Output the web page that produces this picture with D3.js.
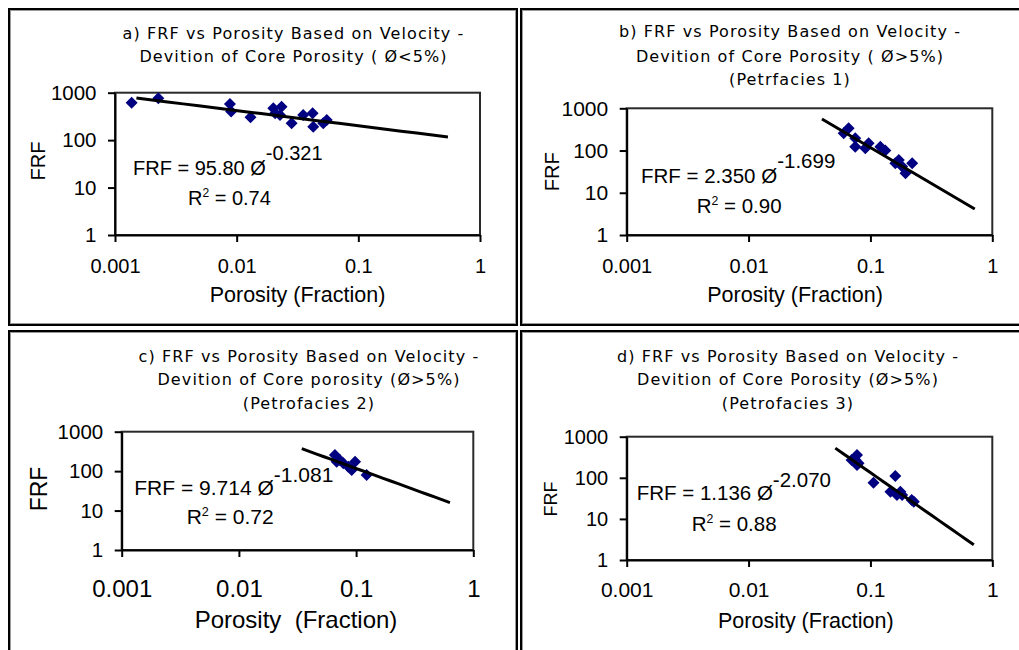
<!DOCTYPE html>
<html>
<head>
<meta charset="utf-8">
<script src="https://cdn.jsdelivr.net/npm/d3@7"></script>
<style>
  html, body { margin: 0; padding: 0; background: #ffffff; }
  svg { display: block; }
</style>
</head>
<body>
<svg id="chart" width="1019" height="650"></svg>
<script>
// ---- Data -------------------------------------------------------------
const xTickValues = [0.001, 0.01, 0.1, 1];
const xTickLabels = ["0.001", "0.01", "0.1", "1"];
const yTickValues = [1, 10, 100, 1000];
const yTickLabels = ["1", "10", "100", "1000"];

const panelTitles = [
  ["a) FRF vs Porosity Based on Velocity -", "Devition of Core Porosity ( \u00D8<5%)"],
  ["b) FRF vs Porosity Based on Velocity -", "Devition of Core Porosity ( \u00D8>5%)", "(Petrfacies 1)"],
  ["c) FRF vs Porosity Based on Velocity -", "Devition of Core porosity (\u00D8>5%)", "(Petrofacies 2)"],
  ["d) FRF vs Porosity Based on Velocity -", "Devition of Core Porosity (\u00D8>5%)", "(Petrofacies 3)"]
];

// a) core porosity below 5 %
const porosityA = [0.00137, 0.00227, 0.0088, 0.0090, 0.0130, 0.0200, 0.0234, 0.0227, 0.0207,
                   0.0283, 0.0352, 0.0421, 0.0426, 0.0515, 0.0550];
const frfA      = [615, 760, 575, 400, 305, 469, 507, 339, 368,
                   226, 339, 367, 192, 226, 265];

// b) petrofacies 1
const porosityB = [0.0603, 0.0662, 0.0751, 0.0751, 0.0908, 0.0966, 0.1206, 0.1324,
                   0.160, 0.171, 0.182, 0.194, 0.220];
const frfB      = [256, 336, 195, 123, 113, 148, 123, 100,
                   50, 60, 42, 29, 50];

// c) petrofacies 2
const porosityC = [0.066, 0.0683, 0.073, 0.0778, 0.0858, 0.0917, 0.098, 0.123];
const frfC      = [256, 173, 189, 158, 129, 107, 173, 80];

// d) petrofacies 3
const porosityD = [0.070, 0.0752, 0.0776, 0.0799, 0.0776, 0.106, 0.160, 0.146,
                   0.165, 0.176, 0.182, 0.218, 0.227];
const frfD      = [271, 271, 359, 225, 205, 76, 110, 46,
                   38, 46, 38, 29, 26];

// Power-law fits  FRF = k * phi^n
const fitCoef     = [95.80, 2.350, 9.714, 1.136];
const fitExponent = [-0.321, -1.699, -1.081, -2.070];
const fitR2       = [0.74, 0.90, 0.72, 0.88];
const fitLabels   = [["95.80", "-0.321", "0.74"], ["2.350", "-1.699", "0.90"],
                     ["9.714", "-1.081", "0.72"], ["1.136", "-2.070", "0.88"]];
const fitRange    = [[0.0015, 0.545], [0.040, 0.718], [0.0344, 0.632], [0.0515, 0.705]];

const porosity = [porosityA, porosityB, porosityC, porosityD];
const frf      = [frfA, frfB, frfC, frfD];

// ---- Layout -----------------------------------------------------------
const cells = [
  { x: 9,   y: 9,   w: 508, h: 316 },
  { x: 521, y: 9,   w: 512, h: 316 },
  { x: 9,   y: 331, w: 508, h: 330 },
  { x: 521, y: 331, w: 512, h: 330 }
];

const layout = [
  { x0: 115,   x1: 480,   y0: 92.7,  y1: 235,
    titleX: 293.5, titleY: [38.5, 62],
    xTickFont: 20, yTickFont: 20.5, xPad: 16.8, axisFont: 21.5, yTitleFont: 20,
    xTitle: [297.5, 302], yTitle: [37.5, 161],
    eqFont: 20, eq: [133, 175], supDy: -15, r2: [188, 205], xTitleText: "Porosity (Fraction)" },
  { x0: 626.7, x1: 992.3, y0: 108.3, y1: 235,
    titleX: 790, titleY: [37, 61.5, 85],
    xTickFont: 20, yTickFont: 21, xPad: 16.5, axisFont: 21.5, yTitleFont: 20,
    xTitle: [795, 301.7], yTitle: [552, 171.7],
    eqFont: 20.5, eq: [641, 182.7], supDy: -14.7, r2: [696.7, 212.7], xTitleText: "Porosity (Fraction)" },
  { x0: 121.7, x1: 473.3, y0: 431.7, y1: 550,
    titleX: 309, titleY: [361.5, 385, 409],
    xTickFont: 24, yTickFont: 20.5, xPad: 22.7, axisFont: 24, yTitleFont: 23,
    xTitle: [296, 628], yTitle: [38.5, 489],
    eqFont: 21, eq: [134.3, 495], supDy: -12.7, r2: [186.7, 524], xTitleText: "Porosity  (Fraction)" },
  { x0: 626.7, x1: 992.3, y0: 436.7, y1: 560,
    titleX: 788, titleY: [361.5, 385, 409],
    xTickFont: 21, yTickFont: 20, xPad: 14.8, axisFont: 21.5, yTitleFont: 18,
    xTitle: [805.8, 628.3], yTitle: [550.5, 499],
    eqFont: 20.5, eq: [636.7, 500], supDy: -13.3, r2: [691.7, 530.7], xTitleText: "Porosity (Fraction)" }
];

const sansFont  = "'Liberation Sans', Arial, sans-serif";
const titleFont = "'DejaVu Sans', Verdana, sans-serif";
const markerColor = "#000080";
const tickLen = 7;

const svg = d3.select("#chart");

// ---- Cell frames ------------------------------------------------------
cells.forEach(c => {
  svg.append("rect")
    .attr("x", c.x).attr("y", c.y).attr("width", c.w).attr("height", c.h)
    .attr("fill", "#ffffff").attr("stroke", "#000000").attr("stroke-width", 2);
  svg.append("rect")
    .attr("x", c.x + 1.5).attr("y", c.y + 1.5).attr("width", c.w - 3).attr("height", c.h - 3)
    .attr("fill", "none").attr("stroke", "#9a9a9a").attr("stroke-width", 1);
});

// ---- Panels -----------------------------------------------------------
layout.forEach((L, i) => {
  const g = svg.append("g");

  const x = d3.scaleLog().domain([xTickValues[0], xTickValues[xTickValues.length - 1]]).range([L.x0, L.x1]);
  const y = d3.scaleLog().domain([yTickValues[0], yTickValues[yTickValues.length - 1]]).range([L.y1, L.y0]);

  // title
  const title = g.append("text")
    .attr("font-family", titleFont).attr("font-size", 16)
    .attr("letter-spacing", "1.1px")
    .attr("text-anchor", "middle").attr("fill", "#000");
  panelTitles[i].forEach((line, k) => {
    title.append("tspan").attr("x", L.titleX).attr("y", L.titleY[k]).text(line);
  });

  // plot-area frame
  g.append("rect")
    .attr("x", L.x0).attr("y", L.y0)
    .attr("width", L.x1 - L.x0).attr("height", L.y1 - L.y0)
    .attr("fill", "none").attr("stroke", "#2a2a2a").attr("stroke-width", 2);

  // x axis
  const xAxis = d3.axisBottom(x)
    .tickValues(xTickValues)
    .tickFormat((d, k) => xTickLabels[k])
    .tickSizeInner(tickLen).tickSizeOuter(0).tickPadding(L.xPad);
  const gx = g.append("g").attr("transform", `translate(0,${L.y1})`).call(xAxis);
  gx.selectAll("path, line").attr("stroke", "#000").attr("stroke-width", 2);
  gx.selectAll("text").attr("font-family", sansFont).attr("font-size", L.xTickFont).attr("fill", "#000");

  // y axis
  const yAxis = d3.axisLeft(y)
    .tickValues(yTickValues)
    .tickFormat((d, k) => yTickLabels[k])
    .tickSizeInner(tickLen).tickSizeOuter(0).tickPadding(11.5);
  const gy = g.append("g").attr("transform", `translate(${L.x0},0)`).call(yAxis);
  gy.selectAll("path, line").attr("stroke", "#000").attr("stroke-width", 2);
  gy.selectAll("text").attr("font-family", sansFont).attr("font-size", L.yTickFont).attr("fill", "#000");

  // axis titles
  g.append("text")
    .attr("x", L.xTitle[0]).attr("y", L.xTitle[1])
    .attr("text-anchor", "middle")
    .attr("font-family", sansFont).attr("font-size", L.axisFont).attr("fill", "#000")
    .style("white-space", "pre")
    .text(L.xTitleText);
  g.append("text")
    .attr("transform", `translate(${L.yTitle[0]},${L.yTitle[1]}) rotate(-90)`)
    .attr("text-anchor", "middle").attr("dy", "0.36em")
    .attr("font-family", sansFont).attr("font-size", L.yTitleFont).attr("fill", "#000")
    .text("FRF");

  // data points (diamonds)
  const pts = porosity[i].map((p, k) => ({ p, f: frf[i][k] }));
  const diamond = d3.symbol(d3.symbolSquare, 72);
  g.append("g").selectAll("path").data(pts).join("path")
    .attr("d", diamond)
    .attr("transform", d => `translate(${x(d.p)},${y(d.f)}) rotate(45)`)
    .attr("fill", markerColor);

  // power-law trendline
  const [a, b] = fitRange[i];
  const trend = d3.range(0, 21).map(k => {
    const p = Math.exp(Math.log(a) + (Math.log(b) - Math.log(a)) * k / 20);
    return { p, f: fitCoef[i] * Math.pow(p, fitExponent[i]) };
  });
  g.append("path")
    .datum(trend)
    .attr("d", d3.line().x(d => x(d.p)).y(d => y(d.f)))
    .attr("fill", "none").attr("stroke", "#000").attr("stroke-width", 3);

  // equation label
  const eq = g.append("text")
    .attr("x", L.eq[0]).attr("y", L.eq[1])
    .attr("font-family", sansFont).attr("font-size", L.eqFont).attr("fill", "#000");
  eq.append("tspan").text(`FRF = ${fitLabels[i][0]} \u00D8`);
  eq.append("tspan").attr("dy", L.supDy).text(fitLabels[i][1]);

  const r2 = g.append("text")
    .attr("x", L.r2[0]).attr("y", L.r2[1])
    .attr("font-family", sansFont).attr("font-size", L.eqFont).attr("fill", "#000");
  r2.append("tspan").text("R");
  r2.append("tspan").attr("dy", -8).attr("font-size", L.eqFont * 0.6).text("2");
  r2.append("tspan").attr("dy", 8).text(` = ${fitLabels[i][2]}`);
});
</script>
</body>
</html>
